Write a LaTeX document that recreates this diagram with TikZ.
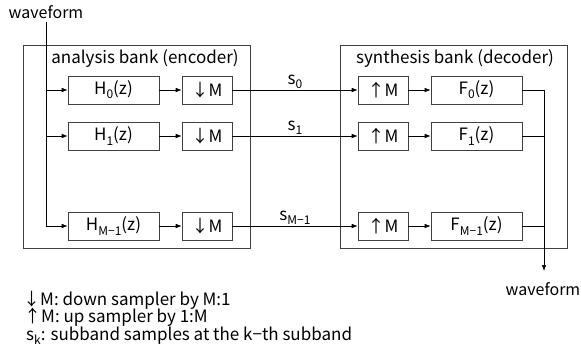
\documentclass[tikz,border=0pt]{standalone}
\usepackage{fontspec}
\setmainfont{Noto Sans CJK JP}
\usetikzlibrary{arrows.meta}
\newcommand{\lowidx}[1]{\raisebox{-0.45ex}{\fontsize{12}{14}\selectfont #1}}

\begin{document}
\begin{tikzpicture}[
    x=1pt, y=-1pt,
    every node/.style={font=\fontsize{17}{20}\selectfont},
    wave/.style={anchor=base, font=\fontsize{16}{19}\selectfont},
    bank/.style={draw=black!75, line width=0.6pt, minimum height=203pt},
    block/.style={draw=black!75, line width=0.6pt, minimum height=28pt, inner sep=1pt},
    filt/.style={block, minimum width=91pt},
    samp/.style={block, minimum width=50pt},
    sig/.style={draw, line width=0.6pt},
    arr/.style={sig, -{Latex[length=6pt,width=4.5pt]}},
    legend/.style={anchor=base west, inner sep=0pt}
]
\useasboundingbox (0,0) rectangle (581,358);
% Banco di filtri a M sottobande:
% analisi (codificatore) e sintesi (decodificatore).
\node[bank, minimum width=227pt] (ana) at (136.5,146.5) {};
\node[bank, minimum width=227pt] (syn) at (453.5,146.5) {};
\node[anchor=base] (anatitle) at (145,64) {analysis bank (encoder)};
\node[anchor=base] (syntitle) at (455,64) {synthesis bank (decoder)};

\node[wave] (wavein) at (46,19) {waveform};
\node[wave] (waveout) at (543,295) {waveform};
\coordinate (outend) at (544,271);

\foreach \k/\y/\s in {0/90/0, 1/136/1, 2/226/M−1} {
    \node[filt] (h\k) at (113.5,\y) {H\lowidx{\s}(z)};
    \node[samp] (d\k) at (207,\y) {↓M};
    \node[samp] (u\k) at (383,\y) {↑M};
    \node[filt] (f\k) at (476.5,\y) {F\lowidx{\s}(z)};
    \coordinate (tap\k) at (46,\y);
    \draw[arr] (tap\k) -- (h\k);
    \draw[arr] (h\k) -- (d\k);
    \draw[arr] (d\k) -- node[above, inner sep=1pt] {s\lowidx{\s}} (u\k);
    \draw[arr] (u\k) -- (f\k);
    \draw[sig] (f\k.east) -- (f\k.east -| outend);
}
\draw[sig] (46,22) -- (tap2);
\draw[arr] (f0.east -| outend) -- (outend);

\node[legend] (leg1) at (23,305) {↓M: down sampler by M:1};
\node[legend] (leg2) at (24,322) {↑M: up sampler by 1:M};
\node[legend] (leg3) at (26,340) {s\lowidx{k}: subband samples at the k−th subband};
\end{tikzpicture}
\end{document}
